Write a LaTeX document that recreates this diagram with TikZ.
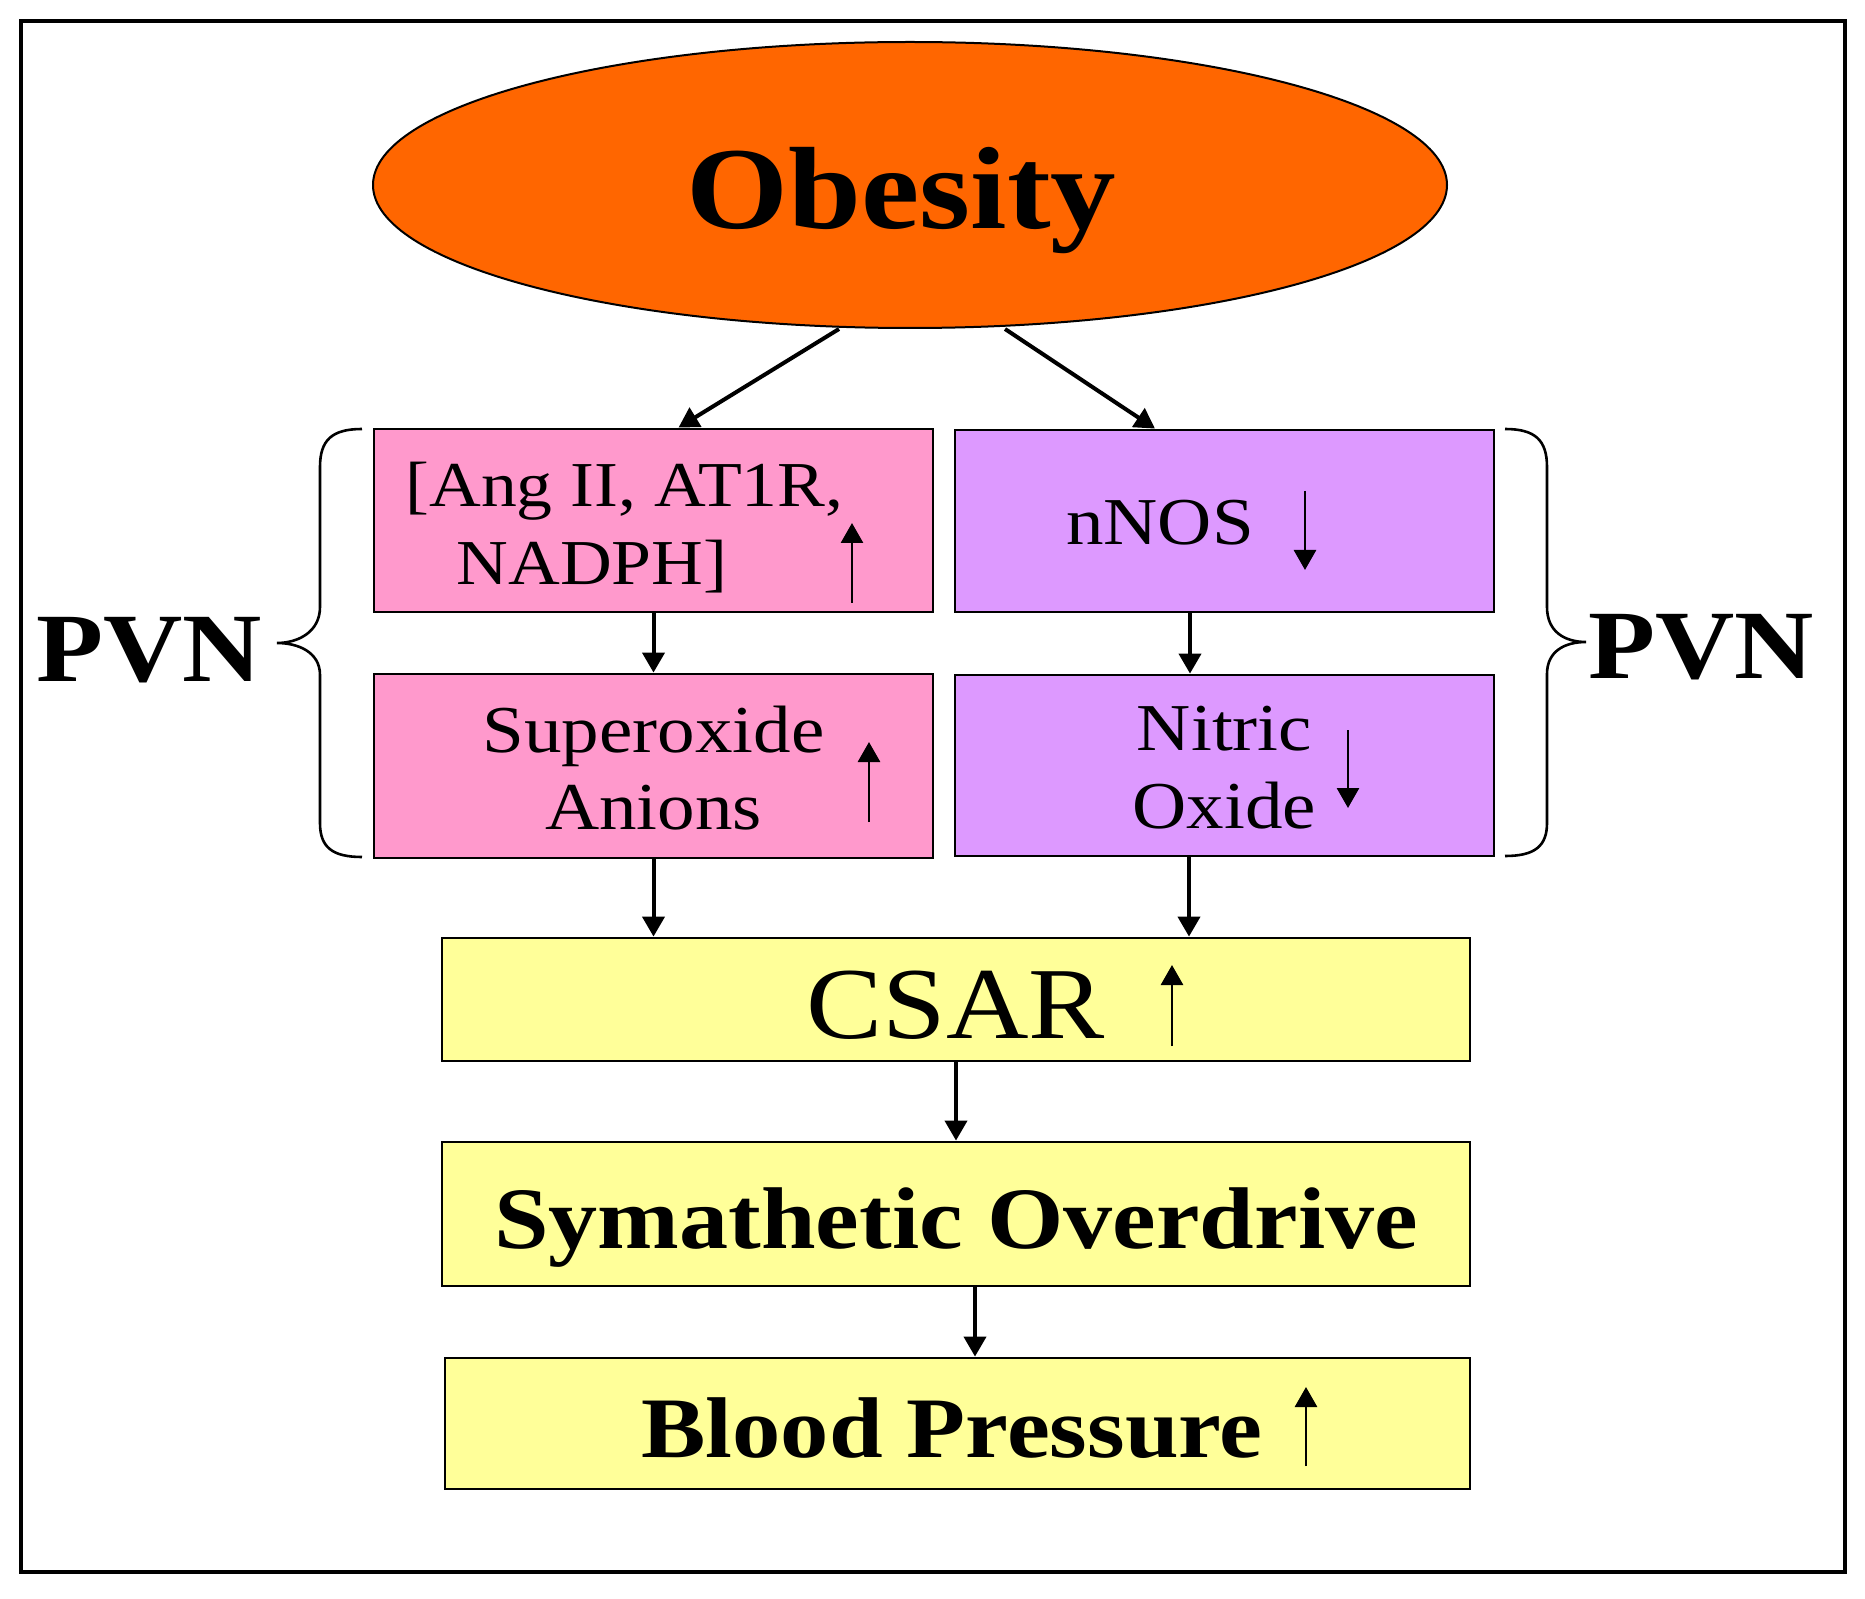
\documentclass[tikz,border=0pt]{standalone}
\usepackage{fontspec}
\setmainfont{Liberation Serif}[FakeStretch=1.12]
\usetikzlibrary{arrows.meta,shapes.geometric}
\definecolor{obor}{HTML}{FF6600}
\definecolor{pinkc}{HTML}{FF99CC}
\definecolor{purpc}{HTML}{DD99FF}
\definecolor{yelc}{HTML}{FFFF99}
\newcommand{\cln}[2]{\hbox to #1{\hfil#2\hfil}}
\tikzset{
  box/.style={draw, line width=1.4pt, inner sep=0pt, anchor=center},
  regtxt/.style={font=\fontsize{33.5pt}{39pt}\selectfont},
  conn/.style={line width=2pt, -{Triangle[length=10pt,width=11pt]}},
  inarr/.style={line width=1.4pt, -{Triangle[length=10pt,width=11pt]}},
  brc/.style={line width=1.3pt},
  pvn/.style={anchor=base west, inner sep=0pt, font=\fontsize{49pt}{50pt}\selectfont\bfseries}
}
\begin{document}
\begin{tikzpicture}[x=0.5pt,y=-0.5pt]
\useasboundingbox (0,0) rectangle (1865,1599);
\draw[line width=1.8pt] (21,21) rectangle (1845,1572);

% Obesity
\node[ellipse, draw, line width=1pt, fill=obor, minimum width=537pt, minimum height=143pt,
      inner sep=0pt, text height=44pt, text depth=0pt,
      font=\fontsize{58.5pt}{60pt}\selectfont\bfseries] (ob) at (910,185) {Obesity\kern8.5pt};

% PVN boxes
\node[box, fill=pinkc, minimum width=279.5pt, minimum height=91.5pt,
      font=\fontsize{32pt}{39pt}\selectfont,
      text height=0pt, text depth=13.5pt] (p1) at (653.5,520.5)
      {\vtop{\hbox{[Ang II, AT1R,}\hbox{\hspace*{25.5pt}NADPH]}}\kern29pt};
\node[box, fill=purpc, minimum width=269.5pt, minimum height=91pt, regtxt,
      text height=24pt, text depth=0pt] (n1) at (1224.5,521) {nNOS\kern64.5pt};
\node[box, fill=pinkc, minimum width=279.5pt, minimum height=92pt, regtxt,
      text height=0pt, text depth=14pt] (p2) at (653.5,766)
      {\vtop{\cln{200pt}{Superoxide}\cln{200pt}{Anions}}};
\node[box, fill=purpc, minimum width=269.5pt, minimum height=90.5pt, regtxt,
      text height=0pt, text depth=15.5pt] (n2) at (1224.5,765.5)
      {\vtop{\cln{200pt}{Nitric}\cln{200pt}{Oxide}}};

% yellow boxes
\node[box, fill=yelc, minimum width=514pt, minimum height=61.5pt,
      text height=38.5pt, text depth=0pt, font=\fontsize{51pt}{52pt}\selectfont] (cs) at (956,999.5) {CSAR};
\node[box, fill=yelc, minimum width=514pt, minimum height=72pt,
      text height=34pt, text depth=0pt, font=\fontsize{43.8pt}{45pt}\selectfont\bfseries] (sy) at (956,1214) {Symathetic Overdrive};
\node[box, fill=yelc, minimum width=512.5pt, minimum height=65.5pt,
      text height=33.5pt, text depth=0pt, font=\fontsize{43.1pt}{44pt}\selectfont\bfseries] (bp) at (957.5,1423.5) {Blood Pressure\kern5.5pt};

% PVN labels
\node[pvn] (pvnL) at (36,682) {PVN};
\node[pvn] (pvnR) at (1588,678) {PVN};

% braces
\draw[brc] (362,429) .. controls (332,429) and (320,440) .. (320,467) -- (320,607)
  .. controls (320,632) and (298,643) .. (277,643)
  .. controls (298,643) and (320,652) .. (320,675) -- (320,823)
  .. controls (320,847) and (332,857) .. (362,857);
\draw[brc] (1505,429) .. controls (1535,429) and (1547,440) .. (1547,467) -- (1547,607)
  .. controls (1547,632) and (1565,642) .. (1586,642)
  .. controls (1565,642) and (1547,651) .. (1547,674) -- (1547,823)
  .. controls (1547,846) and (1535,856) .. (1505,856);

% connectors
\draw[conn] ([xshift=-35.5pt]ob.south) -- ([xshift=12.5pt]p1.north);
\draw[conn] ([xshift=47.5pt]ob.south) -- ([xshift=-34.75pt]n1.north);
\draw[conn] (p1.south) -- (p2.north);
\coordinate (n1b) at ([xshift=-17.25pt]n1.south);
\draw[conn] (n1b) -- (n1b |- n2.north);
\draw[conn] (p2.south) -- (p2.south |- cs.north);
\coordinate (n2b) at ([xshift=-17.75pt]n2.south);
\draw[conn] (n2b) -- (n2b |- cs.north);
\draw[conn] (cs.south) -- (sy.north);
\coordinate (syb) at ([xshift=9.5pt]sy.south);
\draw[conn] (syb) -- (syb |- bp.north);

% in-box arrows
\draw[inarr] (852,603) -- (852,523);
\draw[inarr] (1305,491) -- (1305,570);
\draw[inarr] (869,822) -- (869,742);
\draw[inarr] (1348,730) -- (1348,808);
\draw[inarr] (1172,1046) -- (1172,965);
\draw[inarr] (1306,1466) -- (1306,1387);
\end{tikzpicture}
\end{document}
